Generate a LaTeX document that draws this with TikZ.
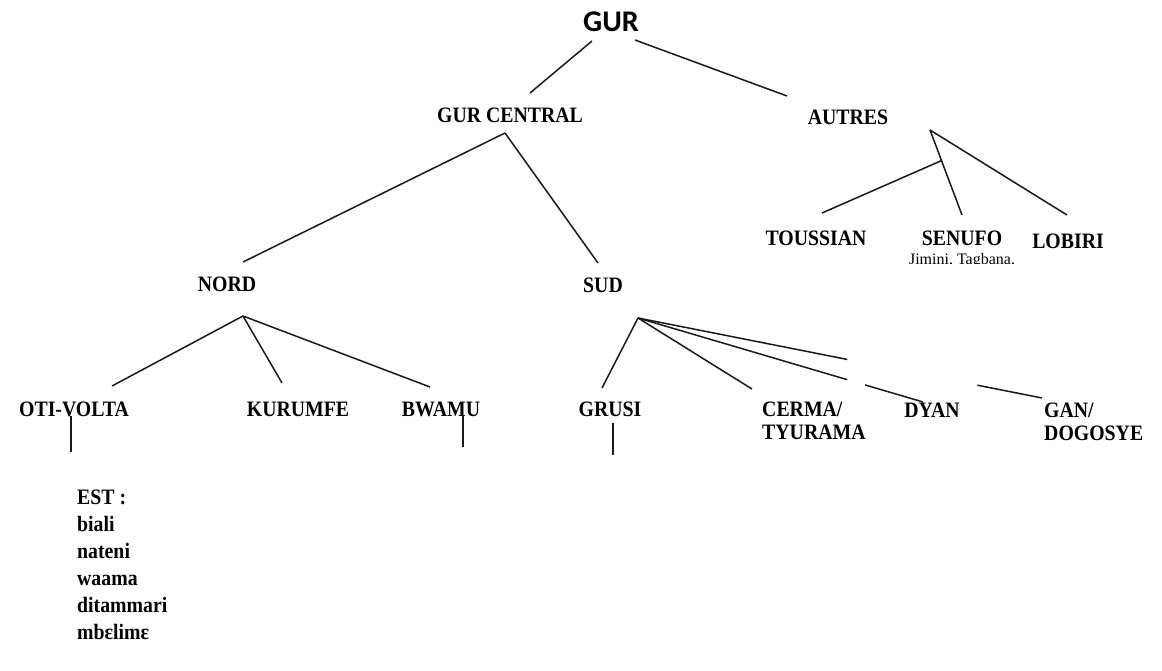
\documentclass[tikz,border=0pt]{standalone}
\usepackage{fontspec}
\setmainfont{Liberation Serif}
\newfontfamily\gursans{Carlito}
\usetikzlibrary{calc}
\newcommand{\nx}[1]{\scalebox{0.9}[1]{#1}}
\begin{document}
\begin{tikzpicture}[x=1pt,y=-1pt,
  lbl/.style={font=\fontsize{22}{24}\selectfont\bfseries, inner sep=0pt, anchor=base},
  lbll/.style={lbl, anchor=base west},
  small/.style={font=\fontsize{16}{18}\selectfont, inner sep=0pt, anchor=base},
  edge/.style={line width=1.5pt, black!90}]
\useasboundingbox[fill=white] (0,0) rectangle (1162,671);
% labels
\node[lbl, font=\gursans\fontsize{30}{32}\selectfont\bfseries] (gur) at (611,32) {GUR};
\node[lbl] (gurc) at (510,123) {\nx{GUR CENTRAL}};
\node[lbl] (autres) at (848,125) {\nx{AUTRES}};
\node[lbl] (toussian) at (816,246) {\nx{TOUSSIAN}};
\node[lbl] (senufo) at (962,246) {\nx{SENUFO}};
\node[lbl] (lobiri) at (1068,248) {\nx{LOBIRI}};
\begin{scope}
\clip (870,246) rectangle (1060,263);
\node[small] (jimini) at (962,264) {Jimini, Tagbana,};
\end{scope}
\node[lbl] (nord) at (227,291) {\nx{NORD}};
\node[lbl] (sud) at (603,292) {\nx{SUD}};
\node[lbl] (oti) at (74,416) {\nx{OTI-VOLTA}};
\node[lbl] (kurumfe) at (298,416) {\nx{KURUMFE}};
\node[lbl] (bwamu) at (441,416) {\nx{BWAMU}};
\node[lbl] (grusi) at (610,416) {\nx{GRUSI}};
\node[lbll] (cerma) at (762,416) {\nx{CERMA/}};
\node[lbll] (tyurama) at (762,439) {\nx{TYURAMA}};
\node[lbl] (dyan) at (932,417) {\nx{DYAN}};
\node[lbll] (gan) at (1044,417) {\nx{GAN/}};
\node[lbll] (dogosye) at (1044,440) {\nx{DOGOSYE}};
\node[lbll] (est) at (77,504) {\nx{EST :}};
\node[lbll] (biali) at (77,531) {\nx{biali}};
\node[lbll] (nateni) at (77,558) {\nx{nateni}};
\node[lbll] (waama) at (77,585) {\nx{waama}};
\node[lbll] (ditammari) at (77,612) {\nx{ditammari}};
\node[lbll] (mbelime) at (77,639) {\nx{mbɛlimɛ}};
% connector end points
\coordinate (g1) at (592,41);  \coordinate (g1e) at (530,93);
\coordinate (g2) at (635,40);  \coordinate (g2e) at (787,96);
\coordinate (gc) at (505,133);
\coordinate (gcn) at (243,262); \coordinate (gcs) at (598,263);
\coordinate (au) at (930,130);
\coordinate (aus) at (962,215); \coordinate (aul) at (1067,215);
\coordinate (aut0) at ($(au)!0.36!(aus)$); \coordinate (aut) at (822,213);
\coordinate (na) at (243,316);
\coordinate (nao) at (112,386); \coordinate (nak) at (282,383); \coordinate (nab) at (430,387);
\coordinate (ov1) at (71,416); \coordinate (ov2) at (71,452);
\coordinate (bw1) at (463,415); \coordinate (bw2) at (463,447);
\coordinate (sa) at (638,318);
\coordinate (sg) at (602,388); \coordinate (sc) at (752,389);
\coordinate (sd) at (923,402); \coordinate (sgan) at (1042,398);
\coordinate (gr1) at (613,423); \coordinate (gr2) at (613,455);
% connectors
\draw[edge] (g1) -- (g1e);
\draw[edge] (g2) -- (g2e);
\draw[edge] (gc) -- (gcn);
\draw[edge] (gc) -- (gcs);
\draw[edge] (au) -- (aus);
\draw[edge] (au) -- (aul);
\draw[edge] (aut0) -- (aut);
\draw[edge] (na) -- (nao);
\draw[edge] (na) -- (nak);
\draw[edge] (na) -- (nab);
\draw[edge] (ov1) -- (ov2);
\draw[edge] (bw1) -- (bw2);
\draw[edge] (sa) -- (sg);
\draw[edge] (sa) -- (sc);
\draw[edge] (sa) -- ($(sa)!0.734!(sd)$);
\draw[edge] ($(sa)!0.797!(sd)$) -- (sd);
\draw[edge] (sa) -- ($(sa)!0.518!(sgan)$);
\draw[edge] ($(sa)!0.84!(sgan)$) -- (sgan);
\draw[edge] (gr1) -- (gr2);
\end{tikzpicture}
\end{document}
